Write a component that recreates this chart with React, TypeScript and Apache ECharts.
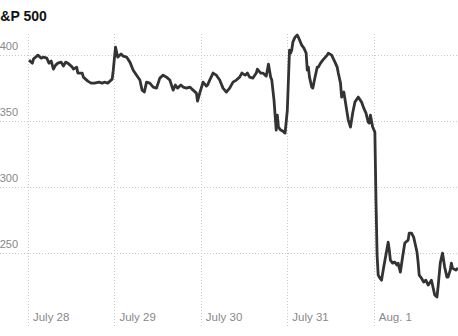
import React, { useEffect, useRef } from "react";
import * as echarts from "echarts";

// Trading minutes since the July 28 open (390 trading minutes per day)
const minutes = [
  5, 20, 25, 45, 60, 70, 85, 95, 105, 115, 125, 135, 150, 160, 170, 180, 200, 205, 220, 225,
  245, 250, 270, 285, 300, 320, 335, 345, 360, 380, 385, 395, 405, 420, 425, 430, 445, 460,
  475, 490, 505, 515, 525, 535, 550, 565, 580, 595, 610, 625, 640, 655, 665, 675, 690, 700,
  715, 730, 745, 760, 765, 775, 790, 805, 810, 820, 835, 850, 865, 880, 895, 910, 925, 940,
  955, 965, 980, 990, 1000, 1015, 1030, 1035, 1050, 1060, 1075, 1080, 1085, 1095, 1100, 1110,
  1120, 1125, 1130, 1140, 1150, 1160, 1170, 1180, 1185, 1190, 1195, 1205, 1215, 1220, 1235,
  1245, 1255, 1260, 1265, 1270, 1280, 1285, 1295, 1305, 1310, 1320, 1330, 1350, 1355, 1370,
  1385, 1395, 1400, 1410, 1415, 1425, 1440, 1445, 1455, 1465, 1475, 1490, 1505, 1515, 1525,
  1535, 1540, 1545, 1555, 1565, 1570, 1575, 1580, 1585, 1595, 1605, 1625, 1630, 1635, 1645,
  1655, 1665, 1670, 1680, 1690, 1700, 1715, 1720, 1730, 1740, 1755, 1760, 1765, 1775, 1785,
  1795, 1805, 1815, 1820, 1825, 1835, 1845, 1850, 1860, 1870, 1880, 1890, 1895, 1905, 1910,
  1915, 1930, 1940,
];

const prices = [
  2396.2, 2393.9, 2397.0, 2400.0, 2397.7, 2398.5, 2397.7, 2393.9, 2395.5, 2389.4, 2392.4, 2393.9,
  2394.7, 2391.7, 2394.7, 2393.9, 2390.9, 2389.4, 2390.9, 2386.4, 2386.4, 2383.3, 2380.3, 2378.8,
  2378.8, 2379.5, 2378.8, 2379.5, 2378.8, 2381.8, 2388.6, 2406.1, 2398.5, 2400.8, 2400.0, 2399.2,
  2398.5, 2394.7, 2388.6, 2384.8, 2381.1, 2373.5, 2372.0, 2379.5, 2378.8, 2375.8, 2375.0, 2382.6,
  2384.8, 2383.3, 2381.1, 2373.5, 2377.3, 2375.0, 2377.3, 2375.8, 2375.0, 2375.8, 2373.5, 2371.2,
  2365.2, 2371.2, 2379.5, 2376.5, 2377.3, 2381.1, 2386.4, 2384.8, 2381.1, 2375.0, 2372.0, 2375.0,
  2379.5, 2381.1, 2383.3, 2386.4, 2384.8, 2386.4, 2383.3, 2382.6, 2386.4, 2389.4, 2386.4, 2386.4,
  2384.1, 2388.6, 2393.2, 2383.3, 2381.1, 2365.9, 2343.2, 2354.5, 2345.5, 2343.2, 2342.4, 2340.9,
  2358.0, 2403.8, 2401.5, 2403.8, 2409.8, 2413.6, 2415.2, 2413.6, 2407.6, 2405.3, 2401.5, 2388.6,
  2390.9, 2383.3, 2375.8, 2375.0, 2383.3, 2390.9, 2390.9, 2393.9, 2396.2, 2400.0, 2401.5, 2400.0,
  2394.7, 2390.9, 2386.4, 2378.8, 2368.2, 2372.0, 2356.1, 2350.8, 2345.5, 2356.1, 2364.4, 2368.2,
  2364.4, 2359.8, 2356.1, 2349.2, 2348.5, 2354.5, 2345.5, 2341.7, 2290.0, 2248.5, 2233.3, 2231.8,
  2229.5, 2239.4, 2258.3, 2252.3, 2244.7, 2242.4, 2243.2, 2240.9, 2242.4, 2235.6, 2247.0, 2257.6,
  2259.8, 2265.2, 2265.2, 2262.1, 2250.8, 2243.2, 2233.3, 2231.1, 2228.0, 2229.5, 2225.8, 2228.0,
  2229.5, 2225.8, 2218.2, 2216.7, 2224.2, 2242.4, 2250.0, 2239.4, 2231.8, 2231.8, 2237.1, 2242.4,
  2238.6, 2237.1, 2238.6,
];

const dayLabels = ["July 28", "July 29", "July 30", "July 31", "Aug. 1"];
const dayStarts = [0, 390, 780, 1170, 1560];
const yTicks = [2250, 2300, 2350, 2400];

export default function App() {
  const ref = useRef<HTMLDivElement>(null);

  useEffect(() => {
    if (!ref.current) return;
    const chart = echarts.init(ref.current, undefined, { renderer: "svg" });
    const data = minutes.map((m, i) => [m, prices[i]]);
    const gridColor = "#c9c9c9";
    chart.setOption({
      animation: false,
      title: {
        text: "S&P 500",
        left: -9,
        top: 9,
        padding: 0,
        textStyle: {
          fontFamily: "Liberation Sans",
          fontSize: 14,
          fontWeight: "bold",
          color: "#121212",
        },
      },
      grid: {
        left: 0,
        right: 0,
        top: 34,
        bottom: 9,
        containLabel: false,
        outerBoundsMode: "none",
      },
      xAxis: {
        type: "value",
        min: -126,
        max: 1940,
        axisLine: { show: false },
        axisTick: { show: false, customValues: dayStarts },
        splitLine: {
          show: true,
          lineStyle: { color: gridColor, type: [1, 2], width: 1 },
        },
        axisLabel: {
          inside: true,
          margin: 4,
          align: "left",
          padding: [0, 0, 0, 5],
          color: "#888",
          fontFamily: "Liberation Sans",
          fontSize: 11.5,
          customValues: dayStarts,
          formatter: (v: number) => {
            const idx = dayStarts.indexOf(v);
            return idx >= 0 ? dayLabels[idx] : "";
          },
        },
      },
      yAxis: {
        type: "value",
        min: 2194,
        max: 2416,
        axisLine: { show: false },
        axisTick: { show: false, customValues: yTicks },
        splitLine: {
          show: true,
          lineStyle: { color: gridColor, type: [1, 2], width: 1 },
        },
        axisLabel: {
          inside: true,
          margin: 18,
          align: "right",
          customValues: yTicks,
          verticalAlign: "bottom",
          padding: [0, 0, 4, 0],
          color: "#888",
          fontFamily: "Liberation Sans",
          fontSize: 11,
          formatter: (v: number) => v.toLocaleString("en-US"),
        },
      },
      series: [
        {
          type: "line",
          data,
          symbol: "none",
          smooth: false,
          lineStyle: { color: "#333", width: 2.8, join: "round" },
        },
      ],
    });
    return () => chart.dispose();
  }, []);

  return (
    <div
      ref={ref}
      style={{ position: "fixed", left: 0, top: 0, width: 458, height: 336, background: "#fff" }}
    />
  );
}
